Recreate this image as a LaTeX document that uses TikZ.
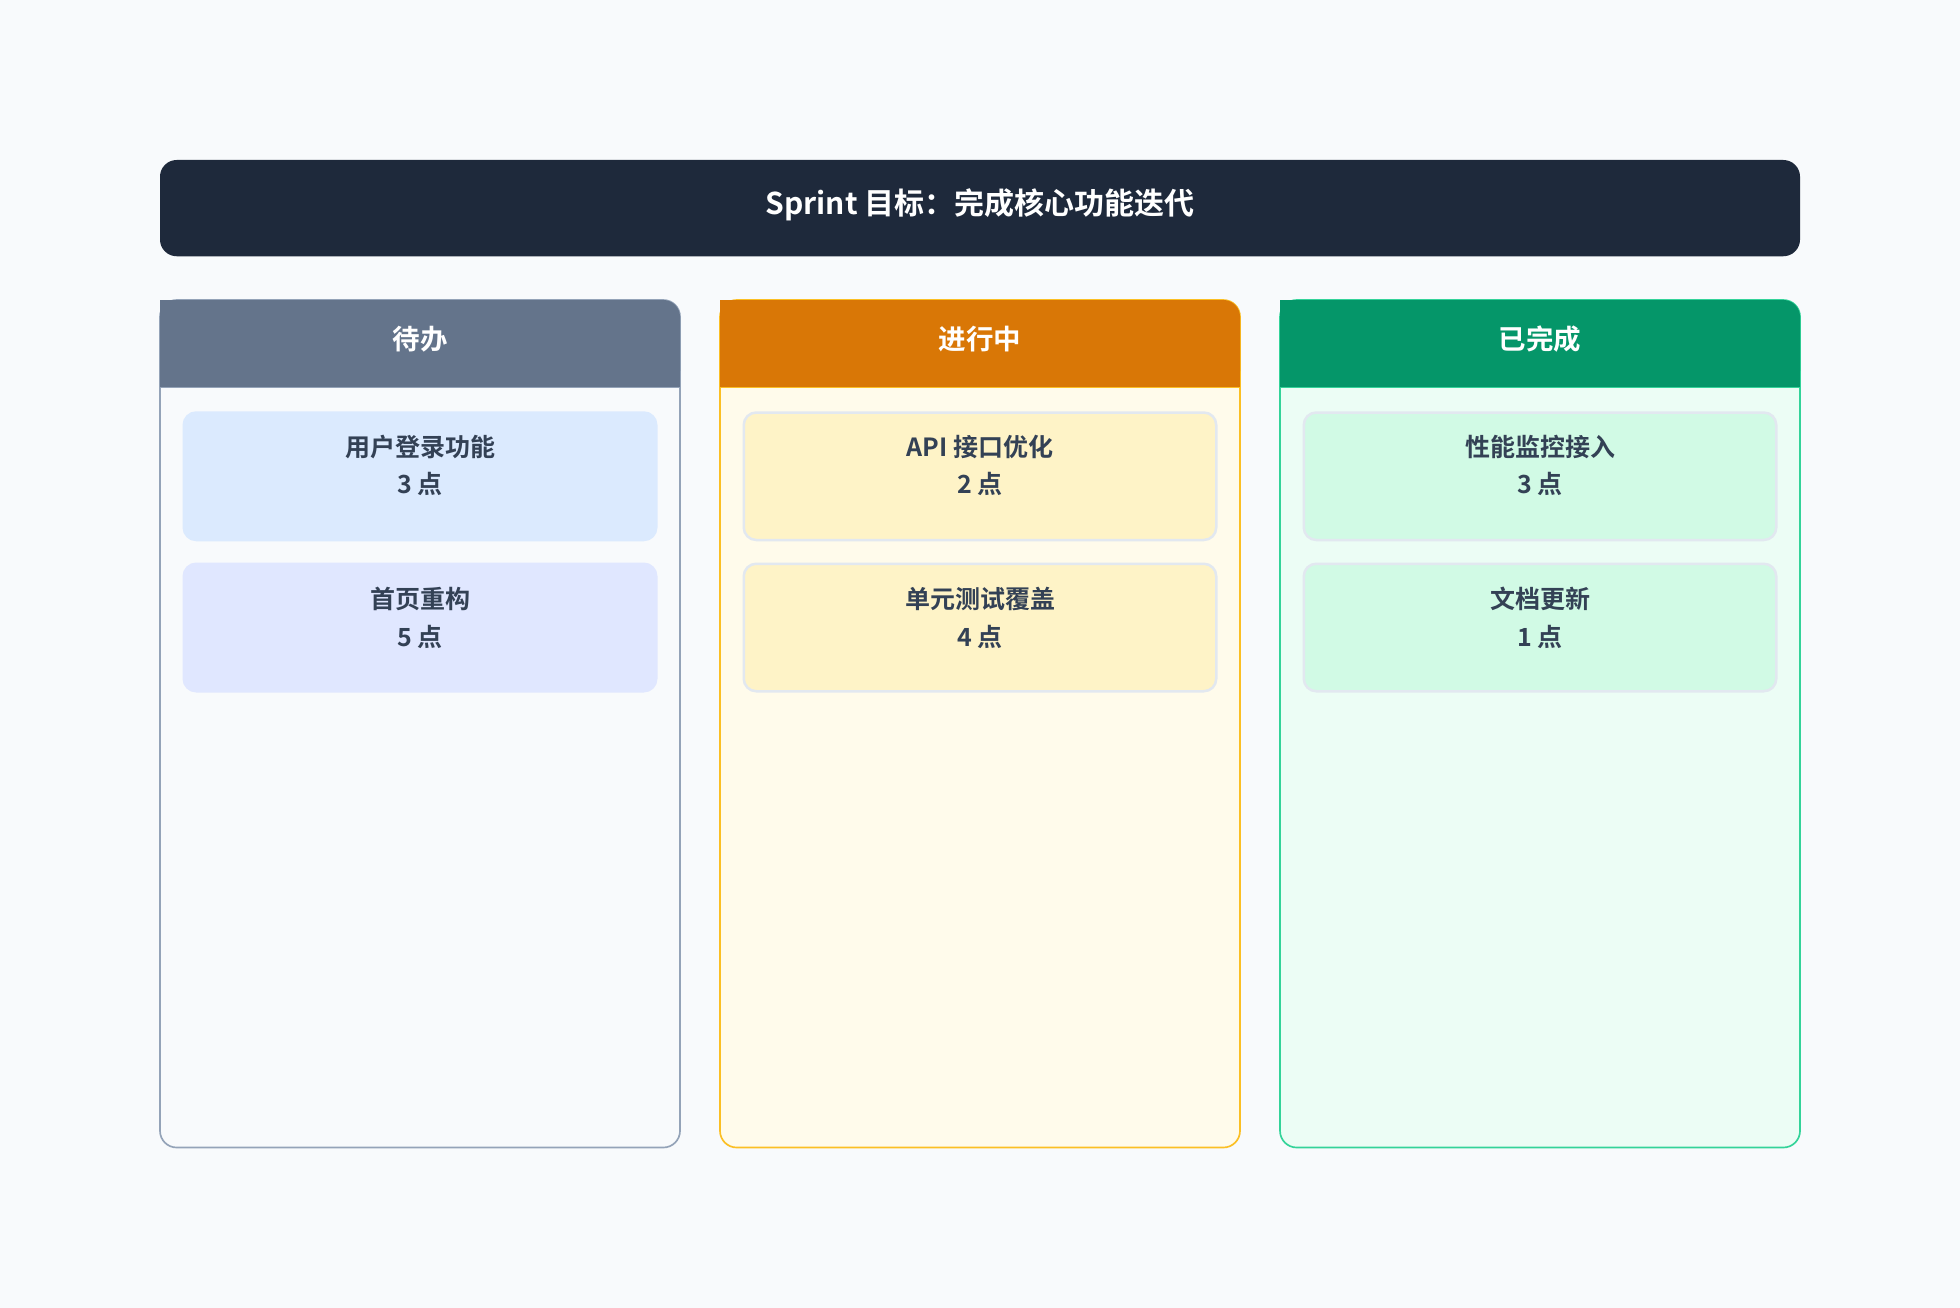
\documentclass[tikz,border=0pt]{standalone}
\usepackage{fontspec}
\setmainfont{Noto Sans CJK SC}[BoldFont={* Bold}]
\newfontfamily\cjkb{Noto Sans CJK SC Bold}
\definecolor{bg}{HTML}{F8FAFC}
\definecolor{titlec}{HTML}{1E293B}
\definecolor{txt}{HTML}{334155}
\definecolor{hA}{HTML}{64748B}\definecolor{hB}{HTML}{D97706}\definecolor{hC}{HTML}{059669}
\definecolor{bA}{HTML}{F8FAFC}\definecolor{bB}{HTML}{FFFBEB}\definecolor{bC}{HTML}{ECFDF5}
\definecolor{lA}{HTML}{94A3B8}\definecolor{lB}{HTML}{FBBF24}\definecolor{lC}{HTML}{34D399}
\definecolor{cA1}{HTML}{DBEAFE}\definecolor{cA2}{HTML}{E0E7FF}\definecolor{cB}{HTML}{FEF3C7}\definecolor{cC}{HTML}{D1FAE5}
\definecolor{cardline}{HTML}{E2E8F0}
\begin{document}
\begin{tikzpicture}[x=0.6pt,y=-0.6pt,
  cardtext/.style={text=txt,font=\cjkb\fontsize{12}{18}\selectfont,align=center,anchor=north},
  headtext/.style={text=white,font=\cjkb\fontsize{13.2}{16}\selectfont},
  cardbox/.style={draw=cardline,line width=1.2pt,rounded corners=6pt}]
\fill[bg] (0,0) rectangle (1568,1046);
\useasboundingbox (0,0) rectangle (1568,1046);
\fill[titlec,rounded corners=8pt] (128,128) rectangle (1440,205);
\node[text=white,font=\cjkb\fontsize{14.4}{18}\selectfont] (title) at (784,164) {Sprint 目标：完成核心功能迭代};
\foreach \x/\h/\b/\l/\name/\lab in {128/hA/bA/lA/ca/待办,576/hB/bB/lB/cb/进行中,1024/hC/bC/lC/cc/已完成}{
  \draw[fill=\b,draw=\l,line width=0.8pt,rounded corners=8pt] (\x,240) rectangle (\x+416,918);
  \fill[\h,rounded corners=8pt] (\x,240) -- (\x+416,240) -- (\x+416,310) [sharp corners] -- (\x,310) -- cycle;
  \fill[\h] (\x,290) rectangle (\x+416,310);
  \draw[\l,line width=0.8pt] (\x,310) -- (\x+416,310);
  \node[headtext] (\name) at (\x+208,271) {\lab};
}
\draw[cardbox,fill=cA1,draw=cA1] (147,330) rectangle (525,432);
\draw[cardbox,fill=cA2,draw=cA2] (147,451) rectangle (525,553);
\draw[cardbox,fill=cB] (595,330) rectangle (973,432);
\draw[cardbox,fill=cB] (595,451) rectangle (973,553);
\draw[cardbox,fill=cC] (1043,330) rectangle (1421,432);
\draw[cardbox,fill=cC] (1043,451) rectangle (1421,553);
\node[cardtext] (t1) at (336,342) {用户登录功能\\3 点};
\node[cardtext] (t2) at (336,464) {首页重构\\5 点};
\node[cardtext] (t3) at (784,342) {API 接口优化\\2 点};
\node[cardtext] (t4) at (784,464) {单元测试覆盖\\4 点};
\node[cardtext] (t5) at (1232,342) {性能监控接入\\3 点};
\node[cardtext] (t6) at (1232,464) {文档更新\\1 点};
\end{tikzpicture}
\end{document}
